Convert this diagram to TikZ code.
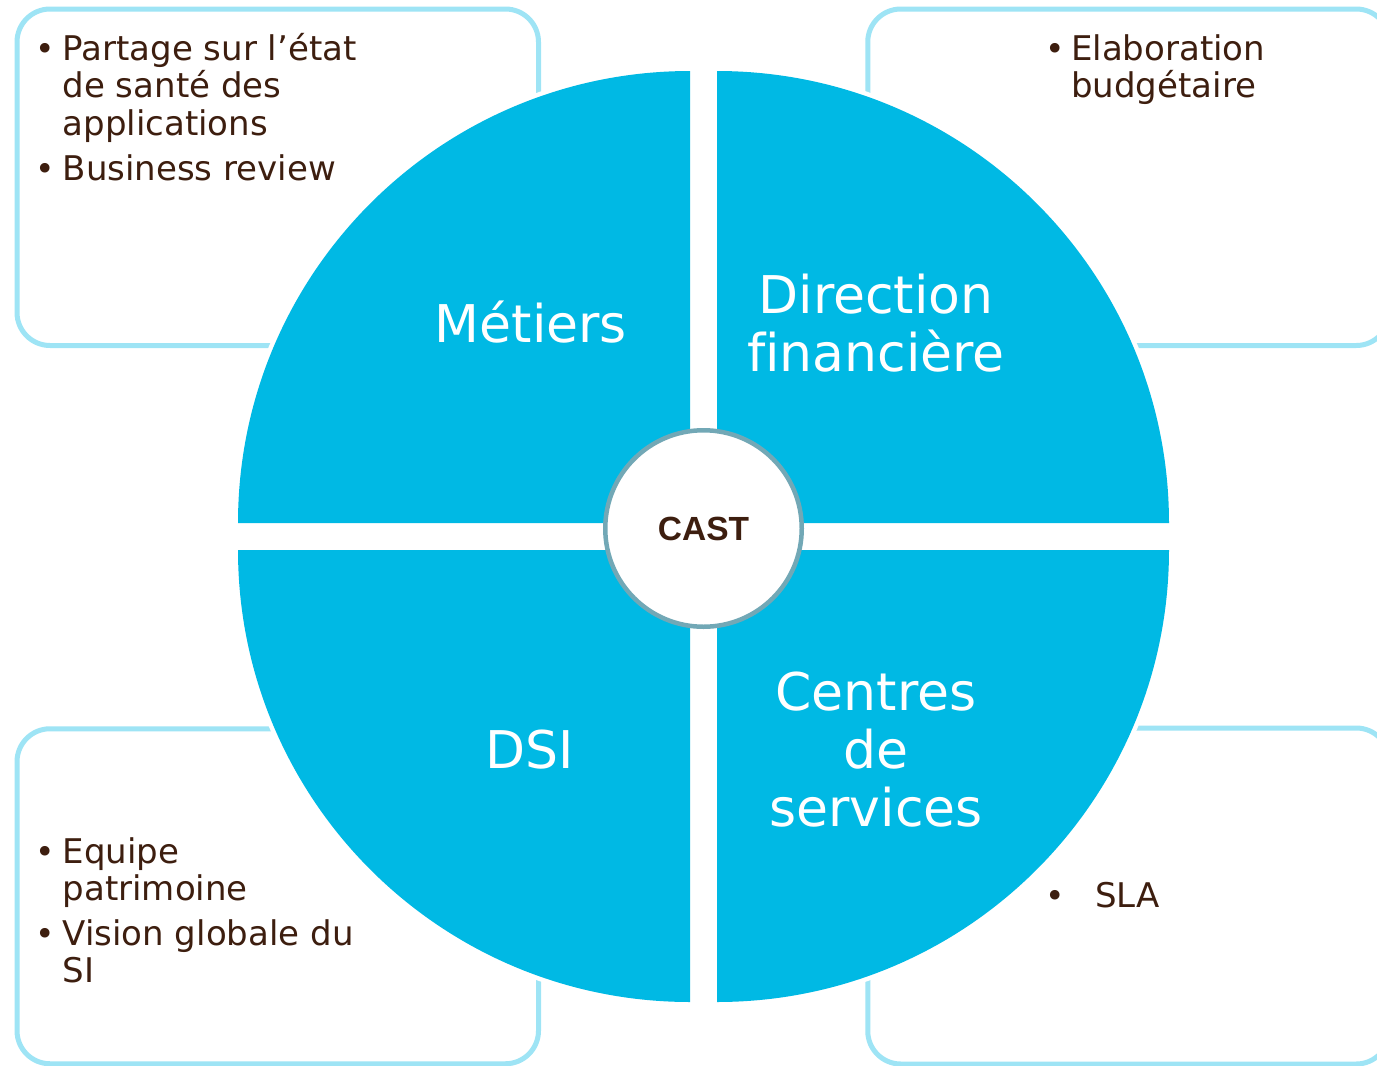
\documentclass[tikz,border=0pt]{standalone}
\usepackage{fontspec}
\setmainfont{DejaVu Sans}[Ligatures=NoCommon]
\newfontfamily\castfont{Liberation Sans}
\definecolor{boxline}{HTML}{9EE4F5}
\definecolor{piefill}{HTML}{00B9E4}
\definecolor{castborder}{HTML}{72A8B6}
\definecolor{txtbrown}{HTML}{3D1E0F}
\tikzset{
  cornerbox/.style={rectangle, rounded corners=33pt, draw=boxline, line width=5pt, fill=white, minimum width=521.5pt, inner sep=0pt},
  halo/.style={fill=white, draw=white, line width=9pt, line join=round},
  pie/.style={fill=piefill},
  bodytext/.style={font=\fontsize{34}{37.5}\selectfont, text=txtbrown, align=left, inner sep=0pt, anchor=base west},
  bulletmark/.style={font=\fontsize{33}{37.5}\selectfont, text=txtbrown, inner sep=0pt, anchor=base},
  biglabel/.style={font=\fontsize{52}{58}\selectfont, text=white, align=center, inner sep=0pt, anchor=base},
  castnode/.style={circle, draw=castborder, line width=4.5pt, fill=white, minimum size=196.5pt, inner sep=0pt, font=\castfont\bfseries\fontsize{33.5}{36}\selectfont, text=txtbrown}
}
\begin{document}
\begin{tikzpicture}[x=1pt, y=-1pt]
\useasboundingbox (0,0) rectangle (1377,1066);
% corner boxes
\node[cornerbox, minimum height=336.5pt] (boxTL) at (277.75,177.25) {};
\node[cornerbox, minimum height=336.5pt] (boxTR) at (1128.5,177.25) {};
\node[cornerbox, minimum height=335pt] (boxBL) at (277.75,896.25) {};
\node[cornerbox, minimum height=336pt] (boxBR) at (1128.5,896) {};
% halos
\path[halo] (690,523) -- (238,523) arc[start angle=180, end angle=270, radius=452] -- cycle;
\path[halo] (717,523) -- (717,71) arc[start angle=270, end angle=360, radius=452] -- cycle;
\path[halo] (690,550) -- (238,550) arc[start angle=180, end angle=90, radius=452] -- cycle;
\path[halo] (717,550) -- (1169,550) arc[start angle=0, end angle=90, radius=452] -- cycle;
% pies
\path[pie] (690,523) -- (238,523) arc[start angle=180, end angle=270, radius=452] -- cycle;
\path[pie] (717,523) -- (717,71) arc[start angle=270, end angle=360, radius=452] -- cycle;
\path[pie] (690,550) -- (238,550) arc[start angle=180, end angle=90, radius=452] -- cycle;
\path[pie] (717,550) -- (1169,550) arc[start angle=0, end angle=90, radius=452] -- cycle;
% big labels (base anchor = last line baseline)
\node[biglabel] (metiers) at (531,342) {Métiers};
\node[biglabel] (dirfin) at (876,371) {Direction\\financière};
\node[biglabel] (dsi) at (530,768) {DSI};
\node[biglabel] (centres) at (876,826) {Centres\\de\\services};
% centre
\node[castnode] (cast) at (703.5,528.5) {CAST};
% top-left text
\node[bulletmark] (tlb1) at (45,60) {•};
\node[bodytext] (tlt1) at (62.5,135) {Partage sur l’état\\de santé des\\applications};
\node[bulletmark] (tlb2) at (45,180) {•};
\node[bodytext] (tlt2) at (62.5,180) {Business review};
% top-right text
\node[bulletmark] (trb1) at (1055,60) {•};
\node[bodytext] (trt1) at (1071,97.5) {Elaboration\\budgétaire};
% bottom-left text
\node[bulletmark] (blb1) at (45,863) {•};
\node[bodytext] (blt1) at (62.5,900.5) {Equipe\\patrimoine};
\node[bulletmark] (blb2) at (45,945) {•};
\node[bodytext] (blt2) at (62.5,982.5) {Vision globale du\\SI};
% bottom-right text
\node[bulletmark] (brb1) at (1055,907) {•};
\node[bodytext] (brt1) at (1095,907) {SLA};
\end{tikzpicture}
\end{document}
